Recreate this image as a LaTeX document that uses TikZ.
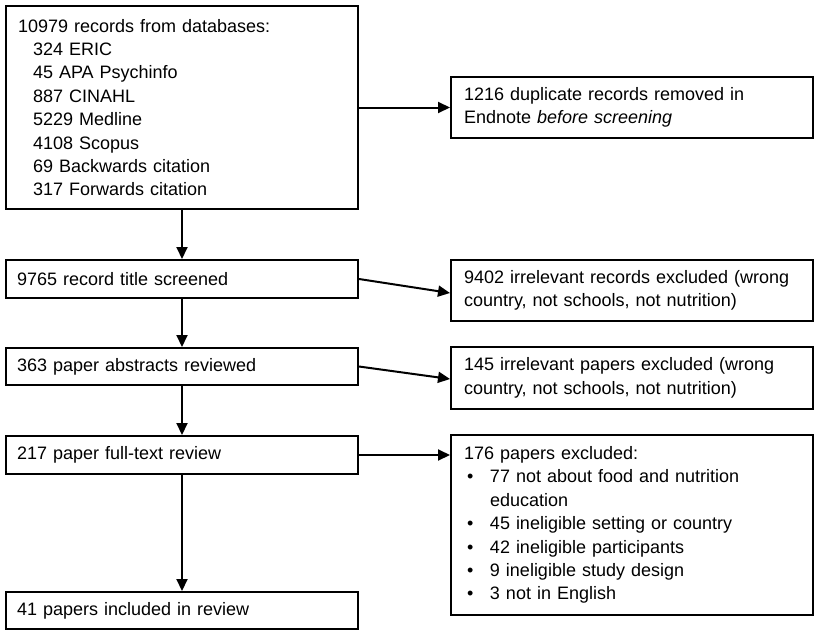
\documentclass[tikz,border=0pt]{standalone}
\usepackage{fontspec}
\setmainfont{Liberation Sans}
\usetikzlibrary{arrows.meta}
\newcommand\bitem[1]{\hspace*{3pt}\makebox[23pt][l]{\textbullet}#1}
\begin{document}
\begin{tikzpicture}[x=1pt,y=-1pt,
  box/.style={draw, line width=2pt, anchor=north west, inner ysep=0pt, align=left,
    font=\fontsize{18}{23.4}\selectfont},
  lbox/.style={box, minimum width=352pt, inner xsep=11pt, text width=330pt},
  rbox/.style={box, minimum width=362pt, inner xsep=13pt, text width=336pt},
  arr/.style={line width=2pt, -{Triangle[length=12pt,width=11pt]}}]
\useasboundingbox (0,0) rectangle (816,632);

\node[box, minimum width=352pt, minimum height=203pt, inner xsep=12pt, text width=328pt] (b1) at (5,5)
 {10979 records from databases:\\
  \hspace*{15pt}324 ERIC\\
  \hspace*{15pt}45 APA Psychinfo\\
  \hspace*{15pt}887 CINAHL\\
  \hspace*{15pt}5229 Medline\\
  \hspace*{15pt}4108 Scopus\\
  \hspace*{15pt}69 Backwards citation\\
  \hspace*{15pt}317 Forwards citation};

\node[rbox, minimum height=61pt] (r1) at (450,76)
 {1216 duplicate records removed in\\Endnote \textit{before screening}};

\node[lbox, minimum height=38pt] (b2) at (5,259) {9765 record title screened};
\node[rbox, minimum height=61pt] (r2) at (450,259)
 {9402 irrelevant records excluded (wrong\\country, not schools, not nutrition)};

\node[lbox, minimum height=37pt] (b3) at (5,347) {363 paper abstracts reviewed};
\node[rbox, minimum height=62pt] (r3) at (450,346)
 {145 irrelevant papers excluded (wrong\\country, not schools, not nutrition)};

\node[lbox, minimum height=38pt] (b4) at (5,435) {217 paper full-text review};
\node[rbox, minimum height=180pt] (r4) at (450,434)
 {176 papers excluded:\\
  \bitem{77 not about food and nutrition}\\
  \hspace*{26pt}education\\
  \bitem{45 ineligible setting or country}\\
  \bitem{42 ineligible participants}\\
  \bitem{9 ineligible study design}\\
  \bitem{3 not in English}};

\node[lbox, minimum height=37pt] (b5) at (5,591) {41 papers included in review};

\draw[arr] (b1.south) -- (b2.north);
\draw[arr] (b2.south) -- (b3.north);
\draw[arr] (b3.south) -- (b4.north);
\draw[arr] (b4.south) -- (b5.north);
\draw[arr] (b1.east) -- (r1.west);
\draw[arr] (b2.east) -- ([yshift=-2.5pt]r2.west);
\draw[arr] (b3.east) -- ([yshift=-1pt]r3.west);
\draw[arr] (b4.east) -- (b4.east -| r4.west);
\end{tikzpicture}
\end{document}
